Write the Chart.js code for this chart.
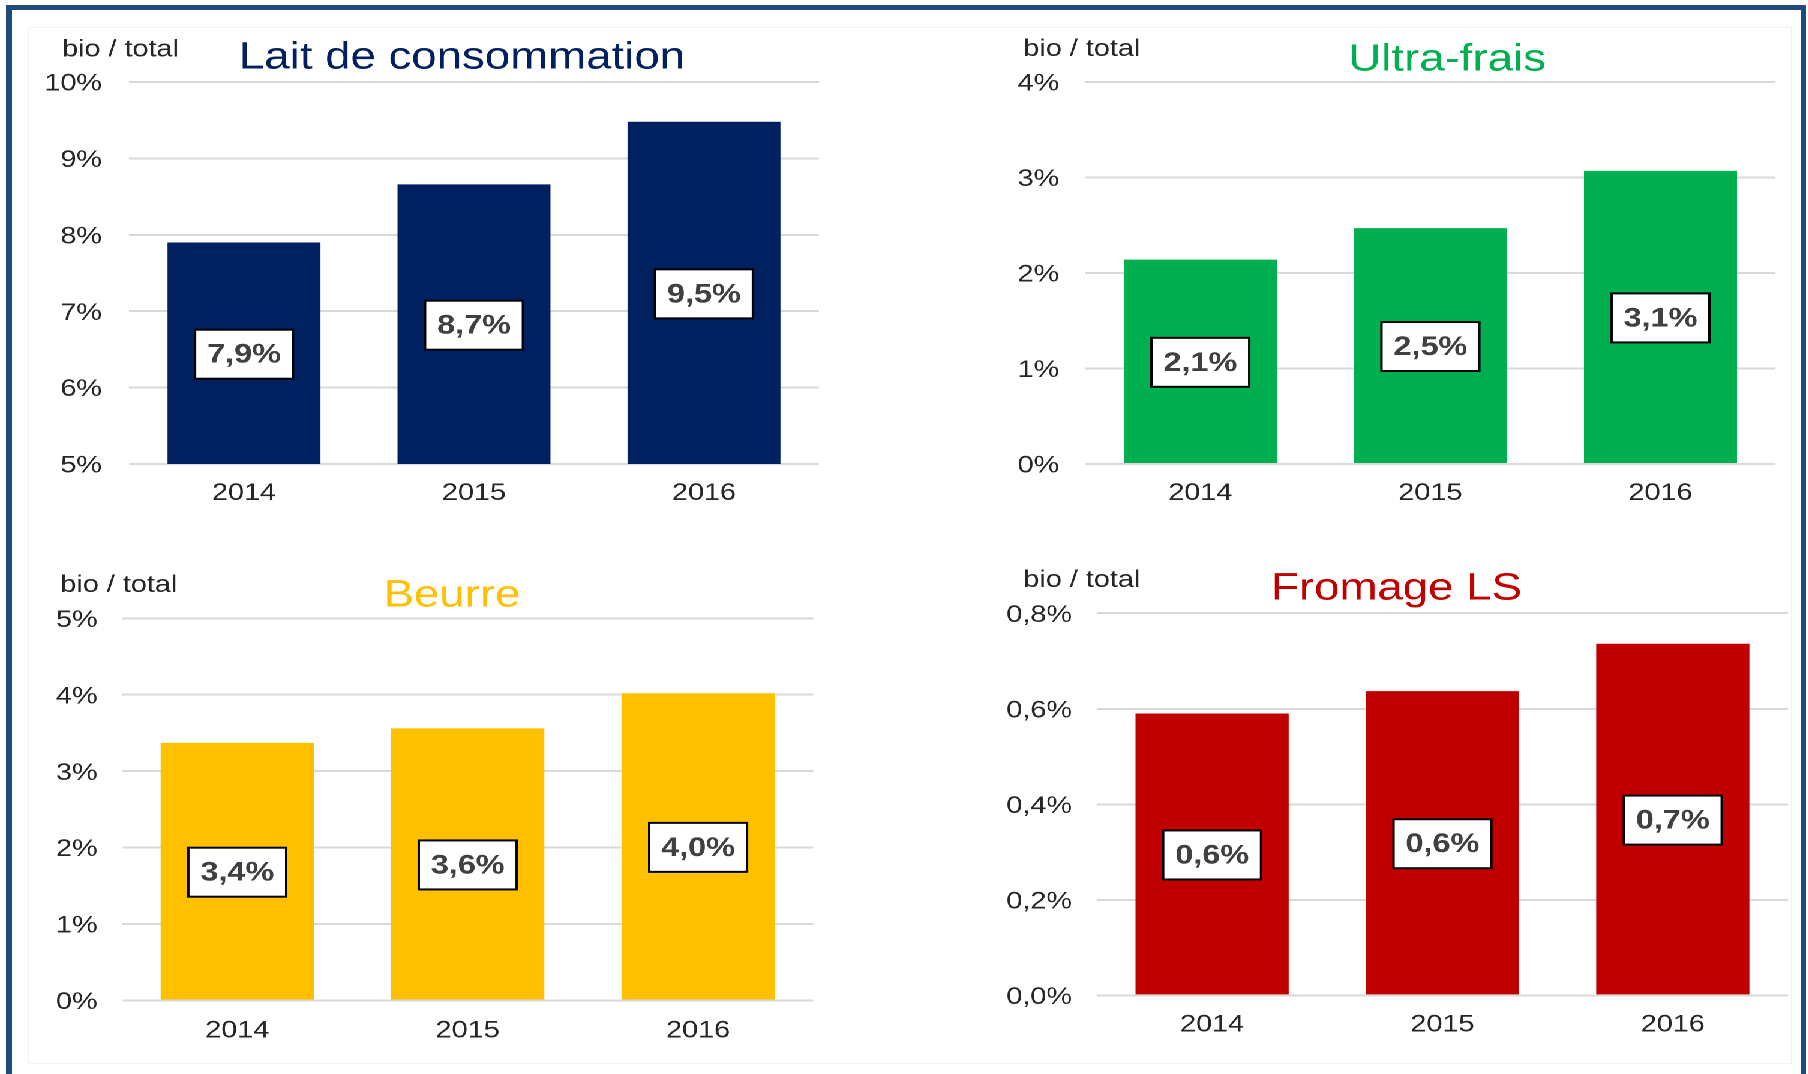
<!DOCTYPE html>
<html lang="fr">
<head>
<meta charset="utf-8">
<title>Part du bio - produits laitiers</title>
<script src="https://cdn.jsdelivr.net/npm/chart.js@4.4.1/dist/chart.umd.min.js"></script>
<style>
  html, body { margin: 0; padding: 0; background: #fff; }
  #page { position: relative; width: 1808px; height: 1074px; overflow: hidden; background: #fff; }
  #frame { position: absolute; left: 6px; top: 5px; width: 1800px; height: 1120px; box-sizing: border-box; border: 5px solid #1f4a7c; border-left-width: 6px; }
  #inner { position: absolute; left: 28px; top: 27px; width: 1764px; height: 1037px; box-sizing: border-box; border: 1px solid #f2f2f2; }
  /* the source picture is stretched ~1.2x sideways: draw narrow, stretch back */
  #charts { position: absolute; left: 0; top: 0; width: 1506.67px; height: 1074px; transform: scaleX(1.2); transform-origin: 0 0; }
  #charts canvas { position: absolute; }
</style>
</head>
<body>
<div id="page">
  <div id="frame"></div>
  <div id="inner"></div>
  <div id="charts">
    <canvas id="lait" width="753" height="537" style="left:0;top:0"></canvas>
    <canvas id="ultra" width="753" height="537" style="left:753px;top:0"></canvas>
    <canvas id="beurre" width="753" height="537" style="left:0;top:537px"></canvas>
    <canvas id="fromage" width="753" height="537" style="left:753px;top:537px"></canvas>
  </div>
</div>
<script>
const years = ['2014', '2015', '2016'];

// part du bio dans le total (%)
const laitValues = [7.9, 8.66, 9.48];
const ultraFraisValues = [2.14, 2.47, 3.07];
const beurreValues = [3.37, 3.56, 4.02];
const fromageValues = [0.59, 0.637, 0.736];

const laitTicks = [5, 6, 7, 8, 9, 10];
const ultraFraisTicks = [0, 1, 2, 3, 4];
const beurreTicks = [0, 1, 2, 3, 4, 5];
const fromageTicks = [0, 0.2, 0.4, 0.6, 0.8];

const FONT = '"Liberation Sans", Arial, sans-serif';
const TEXT = '#262626';

function pct(v, d) {
    return v.toFixed(d).replace('.', ',') + '%';
}

// "bio / total" + titre coloré
const header = {
    id: 'header',
    afterDraw(chart, args, o) {
        const ctx = chart.ctx;
        ctx.save();
        ctx.textBaseline = 'alphabetic';
        ctx.textAlign = 'left';
        ctx.font = '24px ' + FONT;
        ctx.fillStyle = TEXT;
        ctx.fillText('bio / total', o.unitX, o.unitY);
        ctx.textAlign = 'center';
        ctx.font = '38px ' + FONT;
        ctx.fillStyle = o.color;
        ctx.fillText(o.title, o.titleX, o.titleY);
        ctx.restore();
    }
};

// étiquettes encadrées au milieu de la partie visible des barres
const boxLabels = {
    id: 'boxLabels',
    afterDatasetsDraw(chart) {
        const ctx = chart.ctx;
        const meta = chart.getDatasetMeta(0);
        const values = chart.data.datasets[0].data;
        const bottom = chart.chartArea.bottom;
        ctx.save();
        ctx.font = 'bold 27px ' + FONT;
        ctx.textAlign = 'center';
        ctx.textBaseline = 'middle';
        meta.data.forEach((bar, i) => {
            const txt = pct(values[i], 1);
            const { x, y, base } = bar.getProps(['x', 'y', 'base'], true);
            const cy = (y + Math.min(base, bottom)) / 2 + 1;
            const w = ctx.measureText(txt).width + 20;
            const h = 49;
            ctx.fillStyle = '#fff';
            ctx.fillRect(x - w / 2, cy - h / 2, w, h);
            ctx.lineWidth = 2;
            ctx.strokeStyle = '#000';
            ctx.strokeRect(x - w / 2, cy - h / 2, w, h);
            ctx.fillStyle = '#404040';
            ctx.fillText(txt, x, cy + 1);
        });
        ctx.restore();
    }
};

function makeChart(id, p) {
    return new Chart(document.getElementById(id), {
        type: 'bar',
        data: {
            labels: years,
            datasets: [{
                data: p.values,
                backgroundColor: p.color,
                borderWidth: 0,
                categoryPercentage: 1,
                barPercentage: 0.665
            }]
        },
        options: {
            responsive: false,
            animation: false,
            devicePixelRatio: 2,
            layout: { padding: p.padding },
            plugins: {
                legend: { display: false },
                tooltip: { enabled: false },
                header: p.header
            },
            scales: {
                x: {
                    grid: { display: false },
                    border: { display: false },
                    ticks: { color: TEXT, font: { family: FONT, size: 24 }, padding: p.xPad },
                    afterFit: s => { s.height = 50; }
                },
                y: {
                    min: p.ticks[0],
                    max: p.ticks[p.ticks.length - 1],
                    border: { display: false },
                    grid: { color: '#d9d9d9', lineWidth: 2, drawTicks: false },
                    ticks: {
                        color: TEXT,
                        font: { family: FONT, size: 24 },
                        padding: p.yPad,
                        labelOffset: 2,
                        callback: v => pct(v, p.decimals)
                    },
                    afterBuildTicks: s => { s.ticks = p.ticks.map(v => ({ value: v })); },
                    afterFit: s => { s.width = 80; }
                }
            }
        },
        plugins: [header, boxLabels]
    });
}

makeChart('lait', {
    values: laitValues, ticks: laitTicks, decimals: 0, color: '#002060',
    padding: { left: 27.5, right: 70.5, top: 82, bottom: 23 },
    yPad: 22.5, xPad: 7,
    header: { title: 'Lait de consommation', color: '#002060', unitX: 51.7, unitY: 56.5, titleX: 385, titleY: 68.3 }
});

makeChart('ultra', {
    values: ultraFraisValues, ticks: ultraFraisTicks, decimals: 0, color: '#00b050',
    padding: { left: 71.4, right: 26.4, top: 82, bottom: 23 },
    yPad: 21.7, xPad: 7,
    header: { title: 'Ultra-frais', color: '#00b050', unitX: 99.8, unitY: 56, titleX: 453, titleY: 70.6 }
});

makeChart('beurre', {
    values: beurreValues, ticks: beurreTicks, decimals: 0, color: '#ffc000',
    padding: { left: 21.7, right: 75.2, top: 81.3, bottom: 23.5 },
    yPad: 20.4, xPad: 8,
    header: { title: 'Beurre', color: '#ffc000', unitX: 50.3, unitY: 54.8, titleX: 376.7, titleY: 69.4 }
});

makeChart('fromage', {
    values: fromageValues, ticks: fromageTicks, decimals: 1, color: '#c00000',
    padding: { left: 81.1, right: 16, top: 76.2, bottom: 28.6 },
    yPad: 20.8, xPad: 7,
    header: { title: 'Fromage LS', color: '#c00000', unitX: 99.8, unitY: 50, titleX: 410.8, titleY: 62.6 }
});
</script>
</body>
</html>
